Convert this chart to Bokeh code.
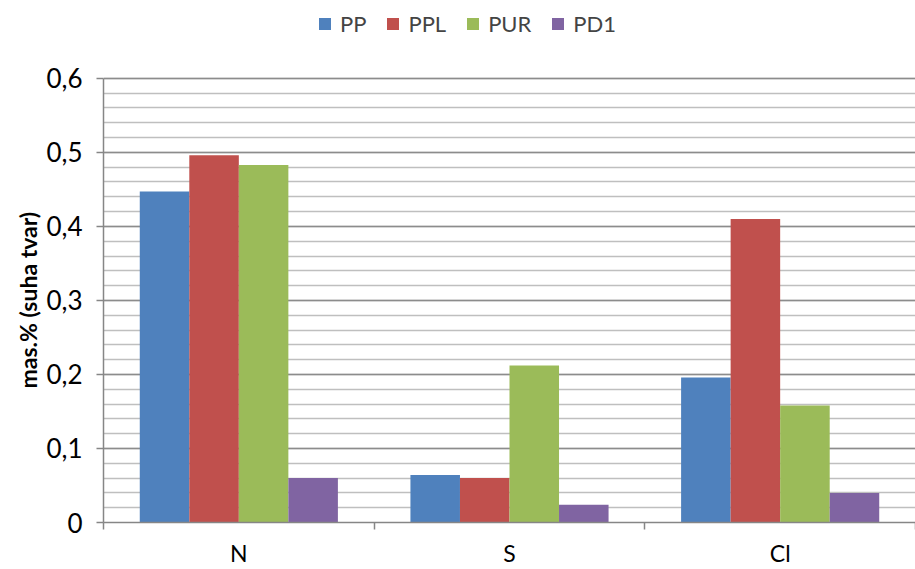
from bokeh.plotting import figure
from bokeh.models import ColumnDataSource, Range1d, FixedTicker, Legend, LegendItem, Title
from bokeh.embed import file_html
from bokeh.resources import INLINE

categories = ["N", "S", "Cl"]
series = ["PP", "PPL", "PUR", "PD1"]
PP = [0.447, 0.064, 0.196]
PPL = [0.496, 0.060, 0.410]
PUR = [0.483, 0.212, 0.158]
PD1 = [0.060, 0.024, 0.040]
colors = ["#4F81BD", "#C0504D", "#9BBB59", "#8064A2"]
y_ticks = [0, 0.1, 0.2, 0.3, 0.4, 0.5, 0.6]
y_labels = ["0", "0,1", "0,2", "0,3", "0,4", "0,5", "0,6"]
y_axis_max = 0.6
y_title = "mas.% (suha tvar)"

FONT = "Lato"
FRAME_H = 523          # frame spans the page from top down to the x axis
PLOT_H = 445           # pixel height of the 0..0.6 data area
y_top = y_axis_max * FRAME_H / PLOT_H   # extra headroom used for the legend

p = figure(width=915, height=569, output_backend="svg", toolbar_location=None,
           x_range=Range1d(0, len(categories)), y_range=Range1d(0, y_top),
           min_border_left=103, min_border_right=0, min_border_top=0, min_border_bottom=46)
p.outline_line_color = None

bw = 0.183
offsets = [-1.5 * bw, -0.5 * bw, 0.5 * bw, 1.5 * bw]
items = []
for name, vals, col, off in zip(series, [PP, PPL, PUR, PD1], colors, offsets):
    src = ColumnDataSource(dict(x=[i + 0.5 + off for i in range(len(categories))], top=vals))
    r = p.vbar(x="x", top="top", width=bw, source=src, fill_color=col, line_color=None)
    items.append(LegendItem(label=name, renderers=[r]))

# x axis
p.xaxis.ticker = FixedTicker(ticks=[i + 0.5 for i in range(len(categories))],
                             minor_ticks=list(range(len(categories) + 1)))
p.xaxis.major_label_overrides = {i + 0.5: c for i, c in enumerate(categories)}
p.xaxis.major_tick_out = 0
p.xaxis.major_tick_in = 0
p.xaxis.minor_tick_out = 7
p.xaxis.minor_tick_in = 0
p.xaxis.minor_tick_line_color = "#868686"
p.xaxis.minor_tick_line_width = 1.5
p.xaxis.axis_line_color = "#868686"
p.xaxis.axis_line_width = 1.5
p.xaxis.major_label_text_font = FONT
p.xaxis.major_label_text_font_size = "23px"
p.xaxis.major_label_text_color = "#000000"
p.xaxis.major_label_standoff = 9
p.xgrid.visible = False

# y axis
p.yaxis.bounds = (0, y_axis_max)
p.yaxis.ticker = FixedTicker(ticks=y_ticks,
                             minor_ticks=[round(i * 0.02, 2) for i in range(31)])
p.yaxis.major_label_overrides = {t: l for t, l in zip(y_ticks, y_labels)}
p.yaxis.major_tick_out = 7
p.yaxis.major_tick_in = 0
p.yaxis.minor_tick_out = 0
p.yaxis.minor_tick_in = 0
p.yaxis.major_tick_line_color = "#868686"
p.yaxis.major_tick_line_width = 1.5
p.yaxis.axis_line_color = "#868686"
p.yaxis.axis_line_width = 1.5
p.yaxis.major_label_text_font = FONT
p.yaxis.major_label_text_font_size = "26px"
p.yaxis.major_label_text_color = "#000000"
p.yaxis.major_label_standoff = 14
p.ygrid.grid_line_color = "#8c8c8c"
p.ygrid.grid_line_width = 1.5
p.ygrid.minor_grid_line_color = "#bfbfbf"
p.ygrid.minor_grid_line_width = 1.5

# y axis title, centred on the 0..0.6 part of the axis
ytitle = Title(text=y_title, align="left", offset=134, standoff=3,
               text_font=FONT, text_font_style="bold", text_font_size="23px",
               text_color="#000000")
p.add_layout(ytitle, "left")

legend = Legend(items=items, orientation="horizontal", location=(214, 485),
                label_text_font=FONT, label_text_font_size="22px",
                glyph_width=15, glyph_height=15, spacing=19, label_standoff=8,
                border_line_color=None, background_fill_alpha=0, margin=0, padding=6)
p.add_layout(legend, "center")

open("out.html", "w").write(file_html(p, INLINE))
